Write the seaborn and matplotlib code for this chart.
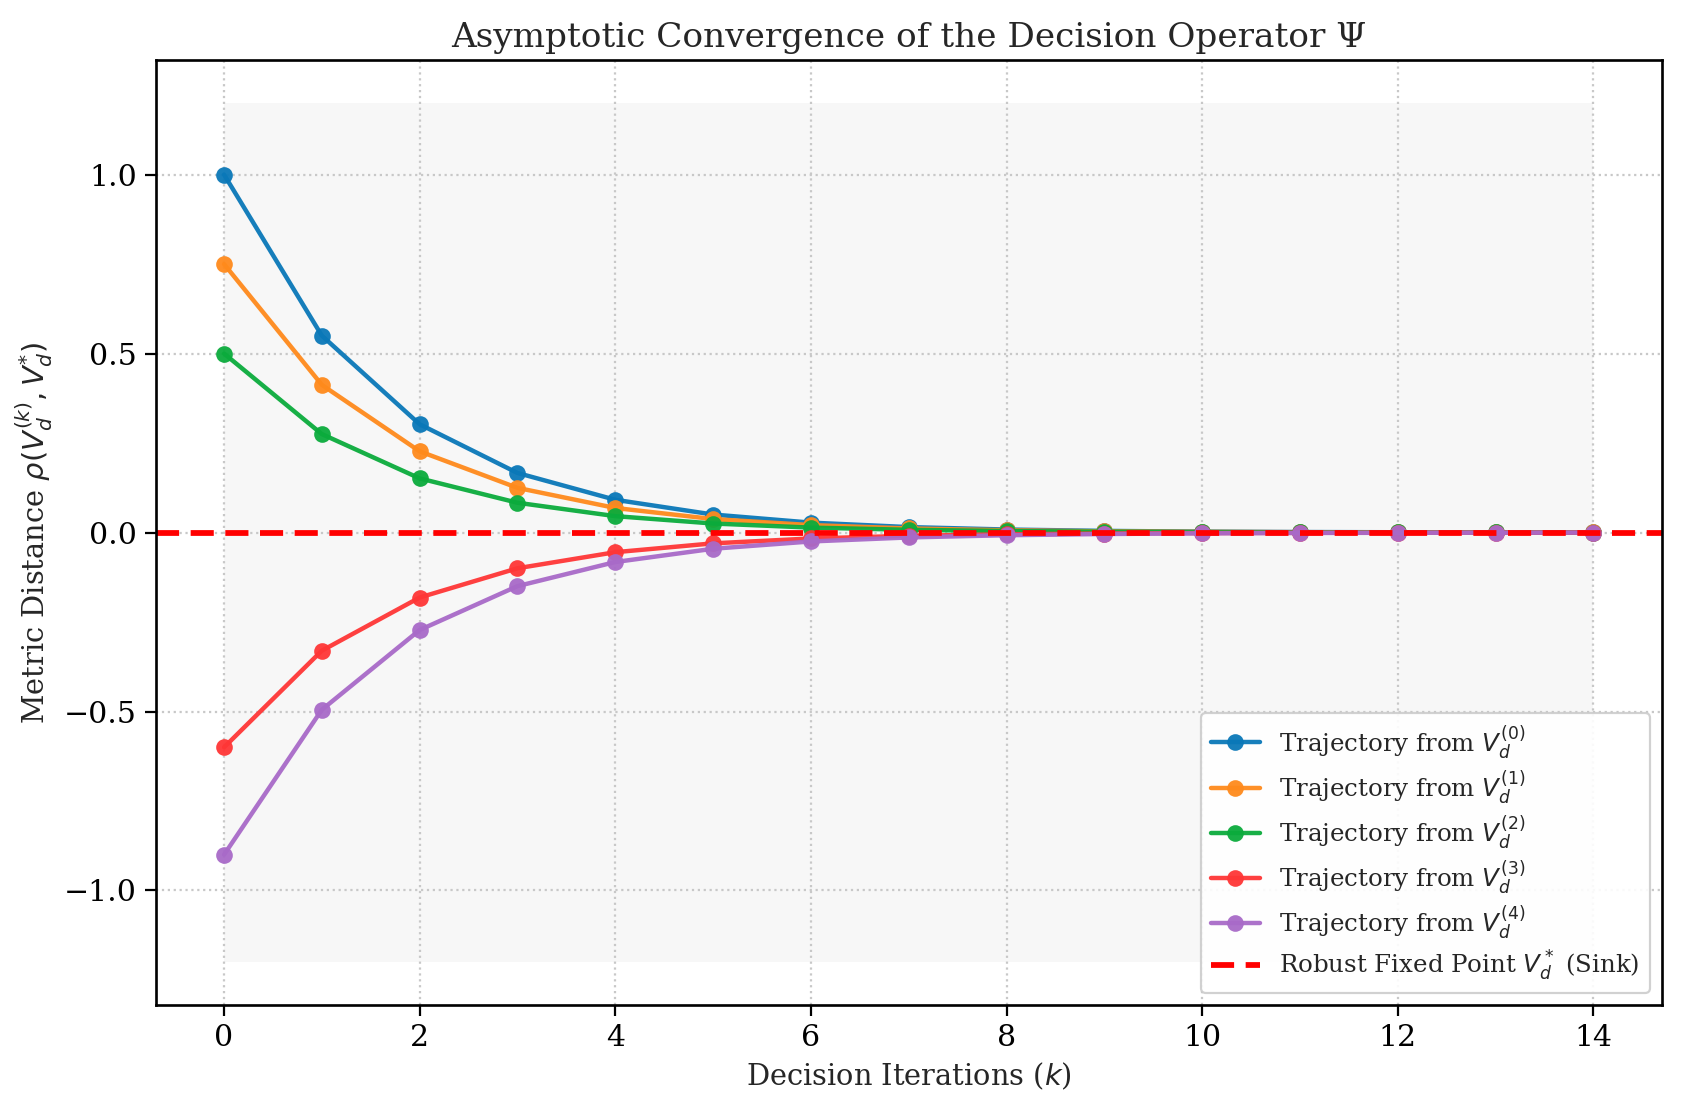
import numpy as np
import pandas as pd
import matplotlib
matplotlib.use("Agg")
import matplotlib.pyplot as plt
import seaborn as sns

# 데이터
iterations = list(range(15))
traj_0 = [1.0, 0.55, 0.3025, 0.1664, 0.0915, 0.0503, 0.0277, 0.0152, 0.0084, 0.0046, 0.0025, 0.0014, 0.0008, 0.0004, 0.0002]
traj_1 = [0.75, 0.4125, 0.2269, 0.1248, 0.0686, 0.0377, 0.0208, 0.0114, 0.0063, 0.0034, 0.0019, 0.0010, 0.0006, 0.0003, 0.0002]
traj_2 = [0.5, 0.275, 0.1513, 0.0832, 0.0458, 0.0252, 0.0138, 0.0076, 0.0042, 0.0023, 0.0013, 0.0007, 0.0004, 0.0002, 0.0001]
traj_3 = [-0.6, -0.33, -0.1815, -0.0998, -0.0549, -0.0302, -0.0166, -0.0091, -0.0050, -0.0028, -0.0015, -0.0008, -0.0005, -0.0003, -0.0001]
traj_4 = [-0.9, -0.495, -0.2723, -0.1497, -0.0824, -0.0453, -0.0249, -0.0137, -0.0075, -0.0041, -0.0023, -0.0012, -0.0007, -0.0004, -0.0002]
series_labels = [
    r"Trajectory from $V_d^{(0)}$",
    r"Trajectory from $V_d^{(1)}$",
    r"Trajectory from $V_d^{(2)}$",
    r"Trajectory from $V_d^{(3)}$",
    r"Trajectory from $V_d^{(4)}$",
]
colors = ["#0a78b8", "#ff8a1c", "#0bab3c", "#ff3636", "#a86ac8"]
fixed_point = 0.0
shade_x = [0, 14]
shade_y = [-1.2, 1.2]

sns.set_style("ticks")
plt.rcParams["font.family"] = ["DejaVu Serif"]
plt.rcParams["axes.unicode_minus"] = True

fig, ax = plt.subplots(figsize=(10.5125, 6.95), dpi=160)

# 수렴 영역 음영
ax.fill_between(shade_x, shade_y[0], shade_y[1], color="#f7f7f7", zorder=0, lw=0)

all_trajs = [traj_0, traj_1, traj_2, traj_3, traj_4]
for vals, lab, col in zip(all_trajs, series_labels, colors):
    sns.lineplot(x=iterations, y=vals, ax=ax, color=col, label=lab,
                 marker="o", markersize=7.5, markeredgewidth=0, linewidth=2, alpha=0.95)

ax.axhline(fixed_point, color="#ff0000", linestyle="--", linewidth=2.6, dashes=(4, 2),
           label=r"Robust Fixed Point $V_d^*$ (Sink)")

ax.grid(True, linestyle=":", color="#c8c8c8", linewidth=1)
ax.set_axisbelow(True)
ax.set_xticks(range(0, 15, 2))
ax.set_yticks([-1.0, -0.5, 0.0, 0.5, 1.0])
ax.tick_params(labelsize=13.5, length=5, width=1, colors="black")
for sp in ax.spines.values():
    sp.set_color("black")
    sp.set_linewidth(1.2)

ax.set_title("Asymptotic Convergence of the Decision Operator Ψ", fontsize=15.4)
ax.set_xlabel(r"Decision Iterations ($k$)", fontsize=13)
ax.set_ylabel(r"Metric Distance $\rho(V_d^{(k)}, V_d^{*})$", fontsize=13)

ax.legend(loc="lower right", fontsize=11, framealpha=0.9, fancybox=True, labelspacing=0.3)

plt.subplots_adjust(left=0.0925, right=0.988, top=0.946, bottom=0.0962)
plt.savefig("out.png", dpi=160)
